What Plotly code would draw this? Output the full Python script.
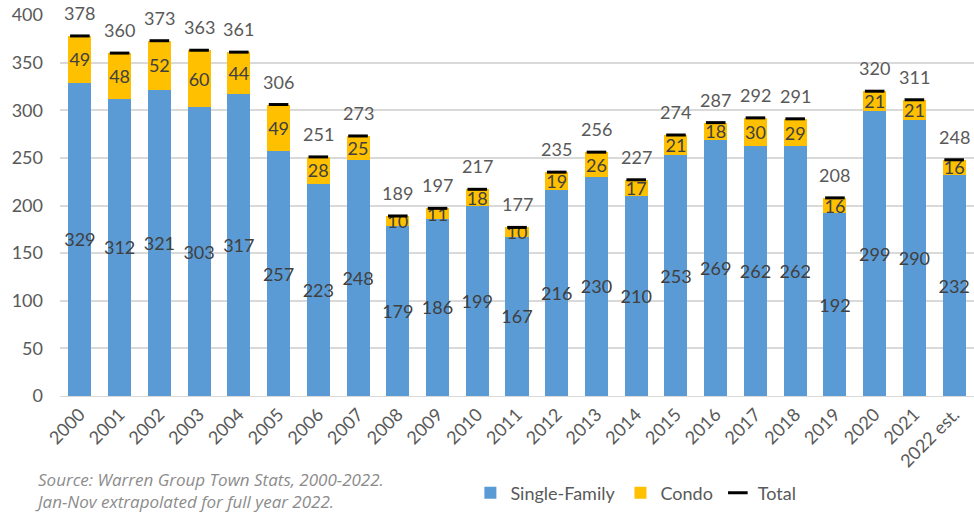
import plotly.graph_objects as go

years = ["2000", "2001", "2002", "2003", "2004", "2005", "2006", "2007", "2008", "2009", "2010",
         "2011", "2012", "2013", "2014", "2015", "2016", "2017", "2018", "2019", "2020", "2021",
         "2022 est."]
single_family = [329, 312, 321, 303, 317, 257, 223, 248, 179, 186, 199,
                 167, 216, 230, 210, 253, 269, 262, 262, 192, 299, 290, 232]
condo = [49, 48, 52, 60, 44, 49, 28, 25, 10, 11, 18,
         10, 19, 26, 17, 21, 18, 30, 29, 16, 21, 21, 16]
total = [378, 360, 373, 363, 361, 306, 251, 273, 189, 197, 217,
         177, 235, 256, 227, 274, 287, 292, 291, 208, 320, 311, 248]

FONT = "Lato"
TXT = "#595959"
LBL = "#404040"

fig = go.Figure()
fig.add_trace(go.Bar(
    x=years, y=single_family, name="Single-Family",
    marker=dict(color="#5B9BD5", line=dict(width=0)),
    text=[str(v) for v in single_family], textposition="inside",
    insidetextanchor="middle", textangle=0, constraintext="none",
    textfont=dict(family=FONT, size=18, color=LBL),
))
fig.add_trace(go.Bar(
    x=years, y=condo, name="Condo",
    marker=dict(color="#FFC000", line=dict(width=0)),
    text=[str(v) for v in condo], textposition="inside",
    insidetextanchor="middle", textangle=0, constraintext="none",
    textfont=dict(family=FONT, size=18, color=LBL),
))
fig.add_trace(go.Scatter(
    x=years, y=total, name="Total", mode="markers",
    marker=dict(symbol="line-ew", size=14, color="black",
                line=dict(color="black", width=3)),
))

for i, t in enumerate(total):
    fig.add_annotation(x=i, y=t, text=str(t), showarrow=False, yshift=23,
                       font=dict(family=FONT, size=18, color=TXT))

fig.add_annotation(
    xref="paper", yref="paper", x=-0.03, y=-0.248, xanchor="left", yanchor="middle",
    align="left", showarrow=False,
    text="<i>Source: Warren Group Town Stats, 2000-2022.<br>Jan-Nov extrapolated for full year 2022.</i>",
    font=dict(family="Open Sans", size=17, color="#8c8c8c"),
)

fig.update_layout(
    width=974, height=514,
    margin=dict(l=60, r=0, t=15, b=118),
    barmode="stack", bargap=0.42,
    plot_bgcolor="white", paper_bgcolor="white",
    font=dict(family=FONT, size=18, color=TXT),
    showlegend=True,
    legend=dict(orientation="h", x=0.449, xanchor="left", y=-0.255, yanchor="middle",
                font=dict(family=FONT, size=18, color=TXT),
                itemwidth=30, tracegroupgap=0, traceorder="normal"),
    xaxis=dict(type="category", range=[-0.5, len(years) - 0.5], tickangle=-45,
               showgrid=False, linecolor="#d9d9d9", linewidth=1,
               tickfont=dict(family=FONT, size=18, color=TXT)),
    yaxis=dict(range=[0, 400], dtick=50, gridcolor="#d9d9d9", gridwidth=1.5,
               zeroline=False, ticklabelstandoff=16,
               tickfont=dict(family=FONT, size=18, color=TXT)),
)

fig.write_html("out.html", config={"displayModeBar": False},
               post_script="document.body.style.margin='0px';")
